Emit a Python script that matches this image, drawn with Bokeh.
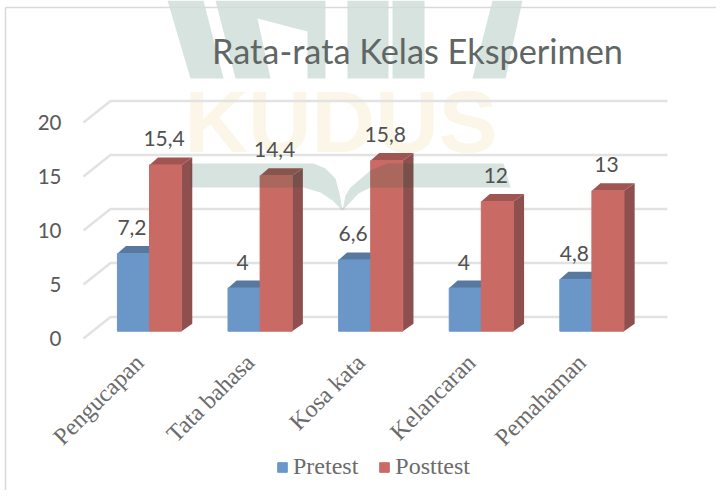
from bokeh.plotting import figure
from bokeh.models import (ColumnDataSource, Range1d, LinearAxis, FixedTicker, Label,
                          Legend, LegendItem)
from bokeh.core.properties import value
from bokeh.embed import file_html
from bokeh.resources import INLINE

# ---- data ----
categories = ["Pengucapan", "Tata bahasa", "Kosa kata", "Kelancaran", "Pemahaman"]
pretest = [7.2, 4, 6.6, 4, 4.8]
posttest = [15.4, 14.4, 15.8, 12, 13]
y_ticks = [0, 5, 10, 15, 20]
title_text = "Rata-rata Kelas Eksperimen"
series_names = ["Pretest", "Posttest"]

W, H = 716, 490
# pixel geometry of the scales
X0, XU = 149.0, 110.6     # px of category 0, px per category
Y0, YU = 330.7, 10.8      # px of value 0 at bar front, px per unit
BAR = 0.29                # bar width, categories


def px_x(px):
    return (px - X0) / XU


def px_y(px):
    return (Y0 - px) / YU


def dx(px):
    return px / XU


def dy(px):
    return px / YU


p = figure(width=W, height=H, output_backend="svg", toolbar_location=None,
           x_range=Range1d(px_x(0), px_x(W)), y_range=Range1d(px_y(H), px_y(0)),
           x_axis_location=None, y_axis_location=None, min_border=0,
           outline_line_color=None, background_fill_color=None, border_fill_color="white")
p.grid.visible = False
p.extra_y_ranges["wall"] = Range1d((338 - H) / YU, 338 / YU)
p.extra_x_ranges["labels"] = Range1d(px_x(0) + dx(10), px_x(W) + dx(10))

# ---- faint watermark behind the chart ----
WM_GREEN = "#0a5a3c"
upper = [
    [(167, 0), (203, 0), (223, 78), (190, 78)],
    [(215, 0), (325, 0), (325, 78), (307, 78), (307, 31), (257, 18), (270, 78), (235, 78)],
    [(347, 0), (388, 0), (388, 78), (347, 78)],
    [(392, 0), (424, 0), (424, 78), (392, 78)],
    [(492, 0), (522, 0), (505, 78), (472, 78)],
]
p.patches([[px_x(a) for a, b in s] for s in upper], [[px_y(b) for a, b in s] for s in upper],
          fill_color=WM_GREEN, fill_alpha=0.17, line_color=None)
p.add_layout(Label(x=184, y=H - 121, x_units="screen", y_units="screen", text="KUDUS", level="underlay",
                   text_font="Liberation Sans", text_font_style="bold", text_font_size="88px",
                   text_color="#fbf6e8", text_baseline="alphabetic"))

# ---- frame ----
p.line([px_x(5), px_x(5)], [px_y(H), px_y(7)], line_color="#d9d9d9", line_width=1.5)
p.line([px_x(5), px_x(W)], [px_y(7), px_y(7)], line_color="#d9d9d9", line_width=1.5)

# ---- back wall gridlines ----
back = dy(Y0 - 316.5)
front = dy(338 - Y0)
corner, left_end, right_end = px_x(110), px_x(83), px_x(667)
p.multi_line([[left_end, corner, right_end] for t in y_ticks],
             [[t - front, t + back, t + back] for t in y_ticks],
             line_color="#e2e2e2", line_width=2.5)

# ---- 3D bars ----
idx = list(range(len(categories)))
BLUE, BLUE_TOP = "#6a96c8", "#57789f"
RED, RED_TOP, RED_SIDE = "#c96a64", "#a05552", "#8e4f4f"
DEPTH_L, DEPTH_R, DEPTH_Y = dx(8.5), dx(10.7), dy(7.5)


def top_face(left, right, vals):
    xs = [[a, b, b + DEPTH_R, a + DEPTH_L] for a, b in zip(left, right)]
    ys = [[v, v, v + DEPTH_Y, v + DEPTH_Y] for v in vals]
    return xs, ys


def side_face(right, vals):
    xs = [[b, b + DEPTH_R, b + DEPTH_R, b] for b in right]
    ys = [[0, DEPTH_Y, v + DEPTH_Y, v] for v in vals]
    return xs, ys


bl = [i - BAR for i in idx]
br = [i for i in idx]
rl = [i for i in idx]
rr = [i + BAR for i in idx]

xs, ys = top_face(bl, br, pretest)
p.patches(xs, ys, fill_color=BLUE_TOP, line_color=None)
r_blue = p.quad(left=bl, right=br, bottom=0, top=pretest, fill_color=BLUE,
                line_color=BLUE, line_width=1)
xs, ys = side_face(rr, posttest)
p.patches(xs, ys, fill_color=RED_SIDE, line_color=None)
xs, ys = top_face(rl, rr, posttest)
p.patches(xs, ys, fill_color=RED_TOP, line_color=None)
r_red = p.quad(left=rl, right=rr, bottom=0, top=posttest, fill_color=RED,
               line_color=RED, line_width=1)

# ---- watermark book, seen through the bars ----
leaves = [
    [(190, 163), (313, 163), (325, 168), (335, 178), (339, 193), (342, 210), (332, 200),
     (320, 192), (303, 187), (190, 187)],
    [(342, 210), (345, 195), (350, 187), (370, 170), (387, 163), (503, 163), (510, 187),
     (370, 187), (358, 193)],
]
p.patches([[px_x(a) for a, b in s] for s in leaves], [[px_y(b) for a, b in s] for s in leaves],
          fill_color=WM_GREEN, fill_alpha=0.17, line_color=None)

# ---- data labels ----
TXT = "#595959"
def comma(v):
    return str(v).replace(".", ",")

lab = ColumnDataSource(dict(
    x=[i - BAR / 2 for i in idx] + [i + BAR / 2 for i in idx],
    y=pretest + posttest,
    t=[comma(v) for v in pretest + posttest]))
p.text("x", "y", text="t", source=lab, x_offset=-1.5, y_offset=-26, text_align="center",
       text_baseline="middle", text_font=value("Lato"), text_font_size="21px",
       text_color="#505050")

# ---- axes ----
yax = LinearAxis(y_range_name="wall", fixed_location=px_x(71), ticker=FixedTicker(ticks=y_ticks),
                 axis_line_color=None, major_tick_line_color=None, minor_tick_line_color=None,
                 major_label_standoff=4, major_label_text_font="Lato",
                 major_label_text_font_size="20.5px", major_label_text_color=TXT)
p.add_layout(yax, "left")
xax = LinearAxis(x_range_name="labels", fixed_location=px_y(352), ticker=FixedTicker(ticks=idx),
                 major_label_overrides={i: c for i, c in zip(idx, categories)},
                 major_label_orientation=0.785, axis_line_color=None,
                 major_tick_line_color=None, minor_tick_line_color=None, major_label_standoff=0,
                 major_label_text_font="Liberation Serif", major_label_text_font_size="24px",
                 major_label_text_color="#6b6b6b")
p.add_layout(xax, "below")

# ---- title ----
p.add_layout(Label(x=417, y=H - 50, x_units="screen", y_units="screen", text=title_text,
                   text_align="center", text_baseline="alphabetic", text_font="Lato",
                   text_font_size="34.3px", text_color="#5f6664"))

# ---- legend ----
legend = Legend(items=[LegendItem(label=series_names[0], renderers=[r_blue]),
                       LegendItem(label=series_names[1], renderers=[r_red])],
                orientation="horizontal", location=(276, 10), background_fill_alpha=0,
                border_line_color=None, glyph_width=12, glyph_height=12, label_standoff=5,
                spacing=20, padding=7, margin=0, label_text_font="Liberation Serif",
                label_text_font_size="24px", label_text_color="#6b6b6b")
p.add_layout(legend)

open("out.html", "w").write(file_html(p, INLINE))
